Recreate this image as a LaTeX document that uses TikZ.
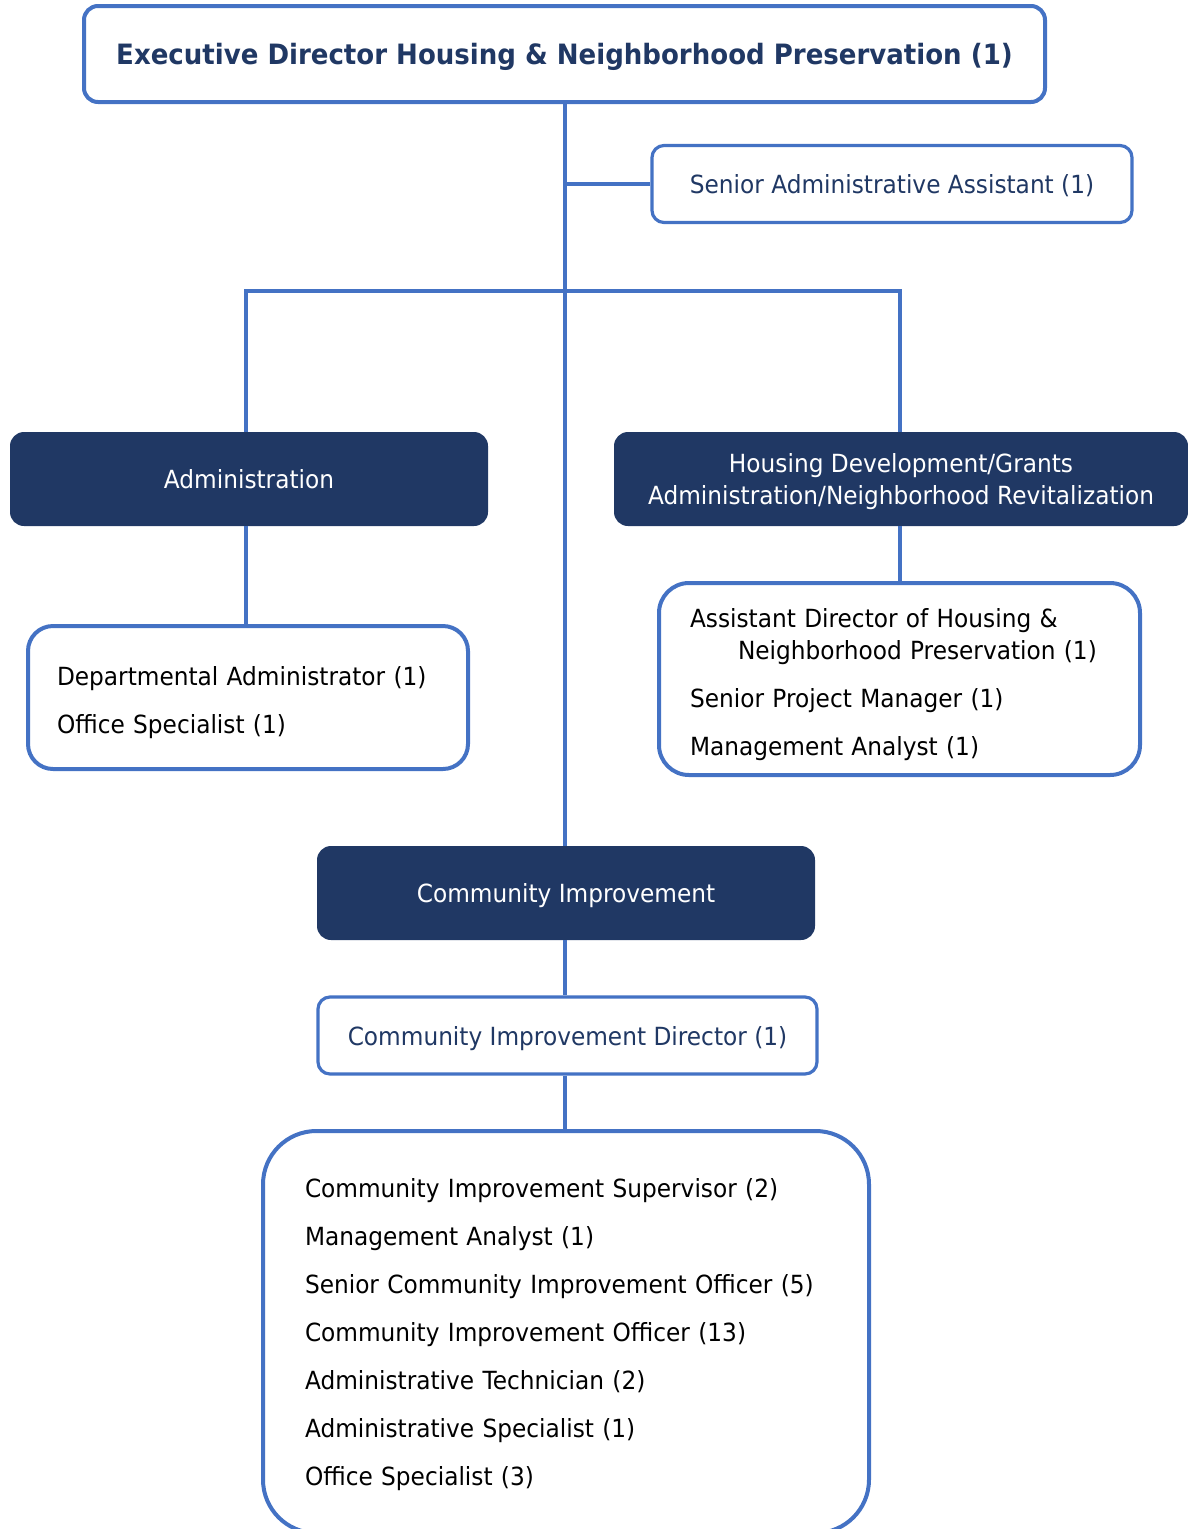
\documentclass[tikz,border=0pt]{standalone}
\usepackage{fontspec}
\setmainfont{DejaVu Sans}[FakeStretch=0.93]
\definecolor{lineblue}{RGB}{68,114,196}
\definecolor{navy}{RGB}{32,56,100}
\begin{document}
\begin{tikzpicture}[x=0.75pt,y=-0.75pt,
  oneline/.style={text depth=0pt},
  conn/.style={draw=lineblue, line width=3pt},
  outline/.style={draw=lineblue, line width=3pt, fill=white, inner sep=0pt},
  darkbox/.style={fill=navy, draw=none, text=white, rounded corners=10.5pt,
    minimum height=70.5pt, inner sep=0pt, align=center, text depth=0pt,
    font=\fontsize{18.75}{24}\selectfont},
  bodytext/.style={font=\fontsize{18.75}{24}\selectfont, align=left}]
\useasboundingbox (0,0) rectangle (1188,1529);
\clip (0,0) rectangle (1188,1529);

% title box
\node[outline, oneline, rounded corners=10.5pt, minimum width=720.75pt, minimum height=72pt,
      text=navy, font=\fontsize{21}{24}\selectfont\bfseries] (top) at (564.5,54)
  {Executive Director Housing \& Neighborhood Preservation (1)};

% senior administrative assistant
\node[outline, oneline, line width=2.4pt, rounded corners=9pt, minimum width=360pt, minimum height=57.75pt,
      text=navy, font=\fontsize{18.75}{24}\selectfont] (sa) at (892,184)
  {Senior Administrative Assistant (1)};

% divisions
\node[darkbox, minimum width=358.5pt] (admin) at (249,479) {Administration};
\node[darkbox, minimum width=430.5pt] (hous) at (901,479)
  {Housing Development/Grants\\Administration/Neighborhood Revitalization};
\node[darkbox, minimum width=373.5pt] (ci) at (566,893) {Community Improvement};

% staff boxes (text depth set so the lines sit slightly low in each box)
\node[outline, bodytext, rounded corners=18.75pt, inner xsep=21.75pt, text width=286.5pt,
      minimum height=107.25pt, text depth=32.5pt] (dept) at (248,697.5)
  {Departmental Administrator (1)\\[12pt]Office Specialist (1)};

\node[outline, bodytext, rounded corners=22.5pt, inner xsep=23.25pt, text width=314.25pt,
      minimum height=144pt, text depth=91pt] (asst) at (899.5,679)
  {Assistant Director of Housing \&\\\hspace*{36pt}Neighborhood Preservation (1)\\[12pt]
   Senior Project Manager (1)\\[12pt]Management Analyst (1)};

\node[outline, oneline, line width=2.4pt, rounded corners=9pt, minimum width=374.25pt, minimum height=57.75pt,
      text=navy, font=\fontsize{18.75}{24}\selectfont] (dir) at (567.5,1035.5)
  {Community Improvement Director (1)};

\node[outline, bodytext, rounded corners=40pt, inner xsep=31.5pt, text width=391.5pt,
      minimum height=301.5pt, text depth=215.5pt] (staff) at (566,1332)
  {Community Improvement Supervisor (2)\\[12pt]
   Management Analyst (1)\\[12pt]
   Senior Community Improvement Officer (5)\\[12pt]
   Community Improvement Officer (13)\\[12pt]
   Administrative Technician (2)\\[12pt]
   Administrative Specialist (1)\\[12pt]
   Office Specialist (3)};

% connectors
\coordinate (bus) at (565,291);
\draw[conn] (top.south -| bus) -- (ci.north -| bus);
\draw[conn] (sa.west) -- (sa.west -| bus);
\draw[conn] (admin.north -| 246,0) -- (246,291) -- (900,291) -- (hous.north -| 900,0);
\draw[conn] (admin.south -| 246,0) -- (dept.north -| 246,0);
\draw[conn] (hous.south -| 900,0) -- (asst.north -| 900,0);
\draw[conn] (ci.south -| bus) -- (dir.north -| bus);
\draw[conn] (dir.south -| bus) -- (staff.north -| bus);
\end{tikzpicture}
\end{document}
